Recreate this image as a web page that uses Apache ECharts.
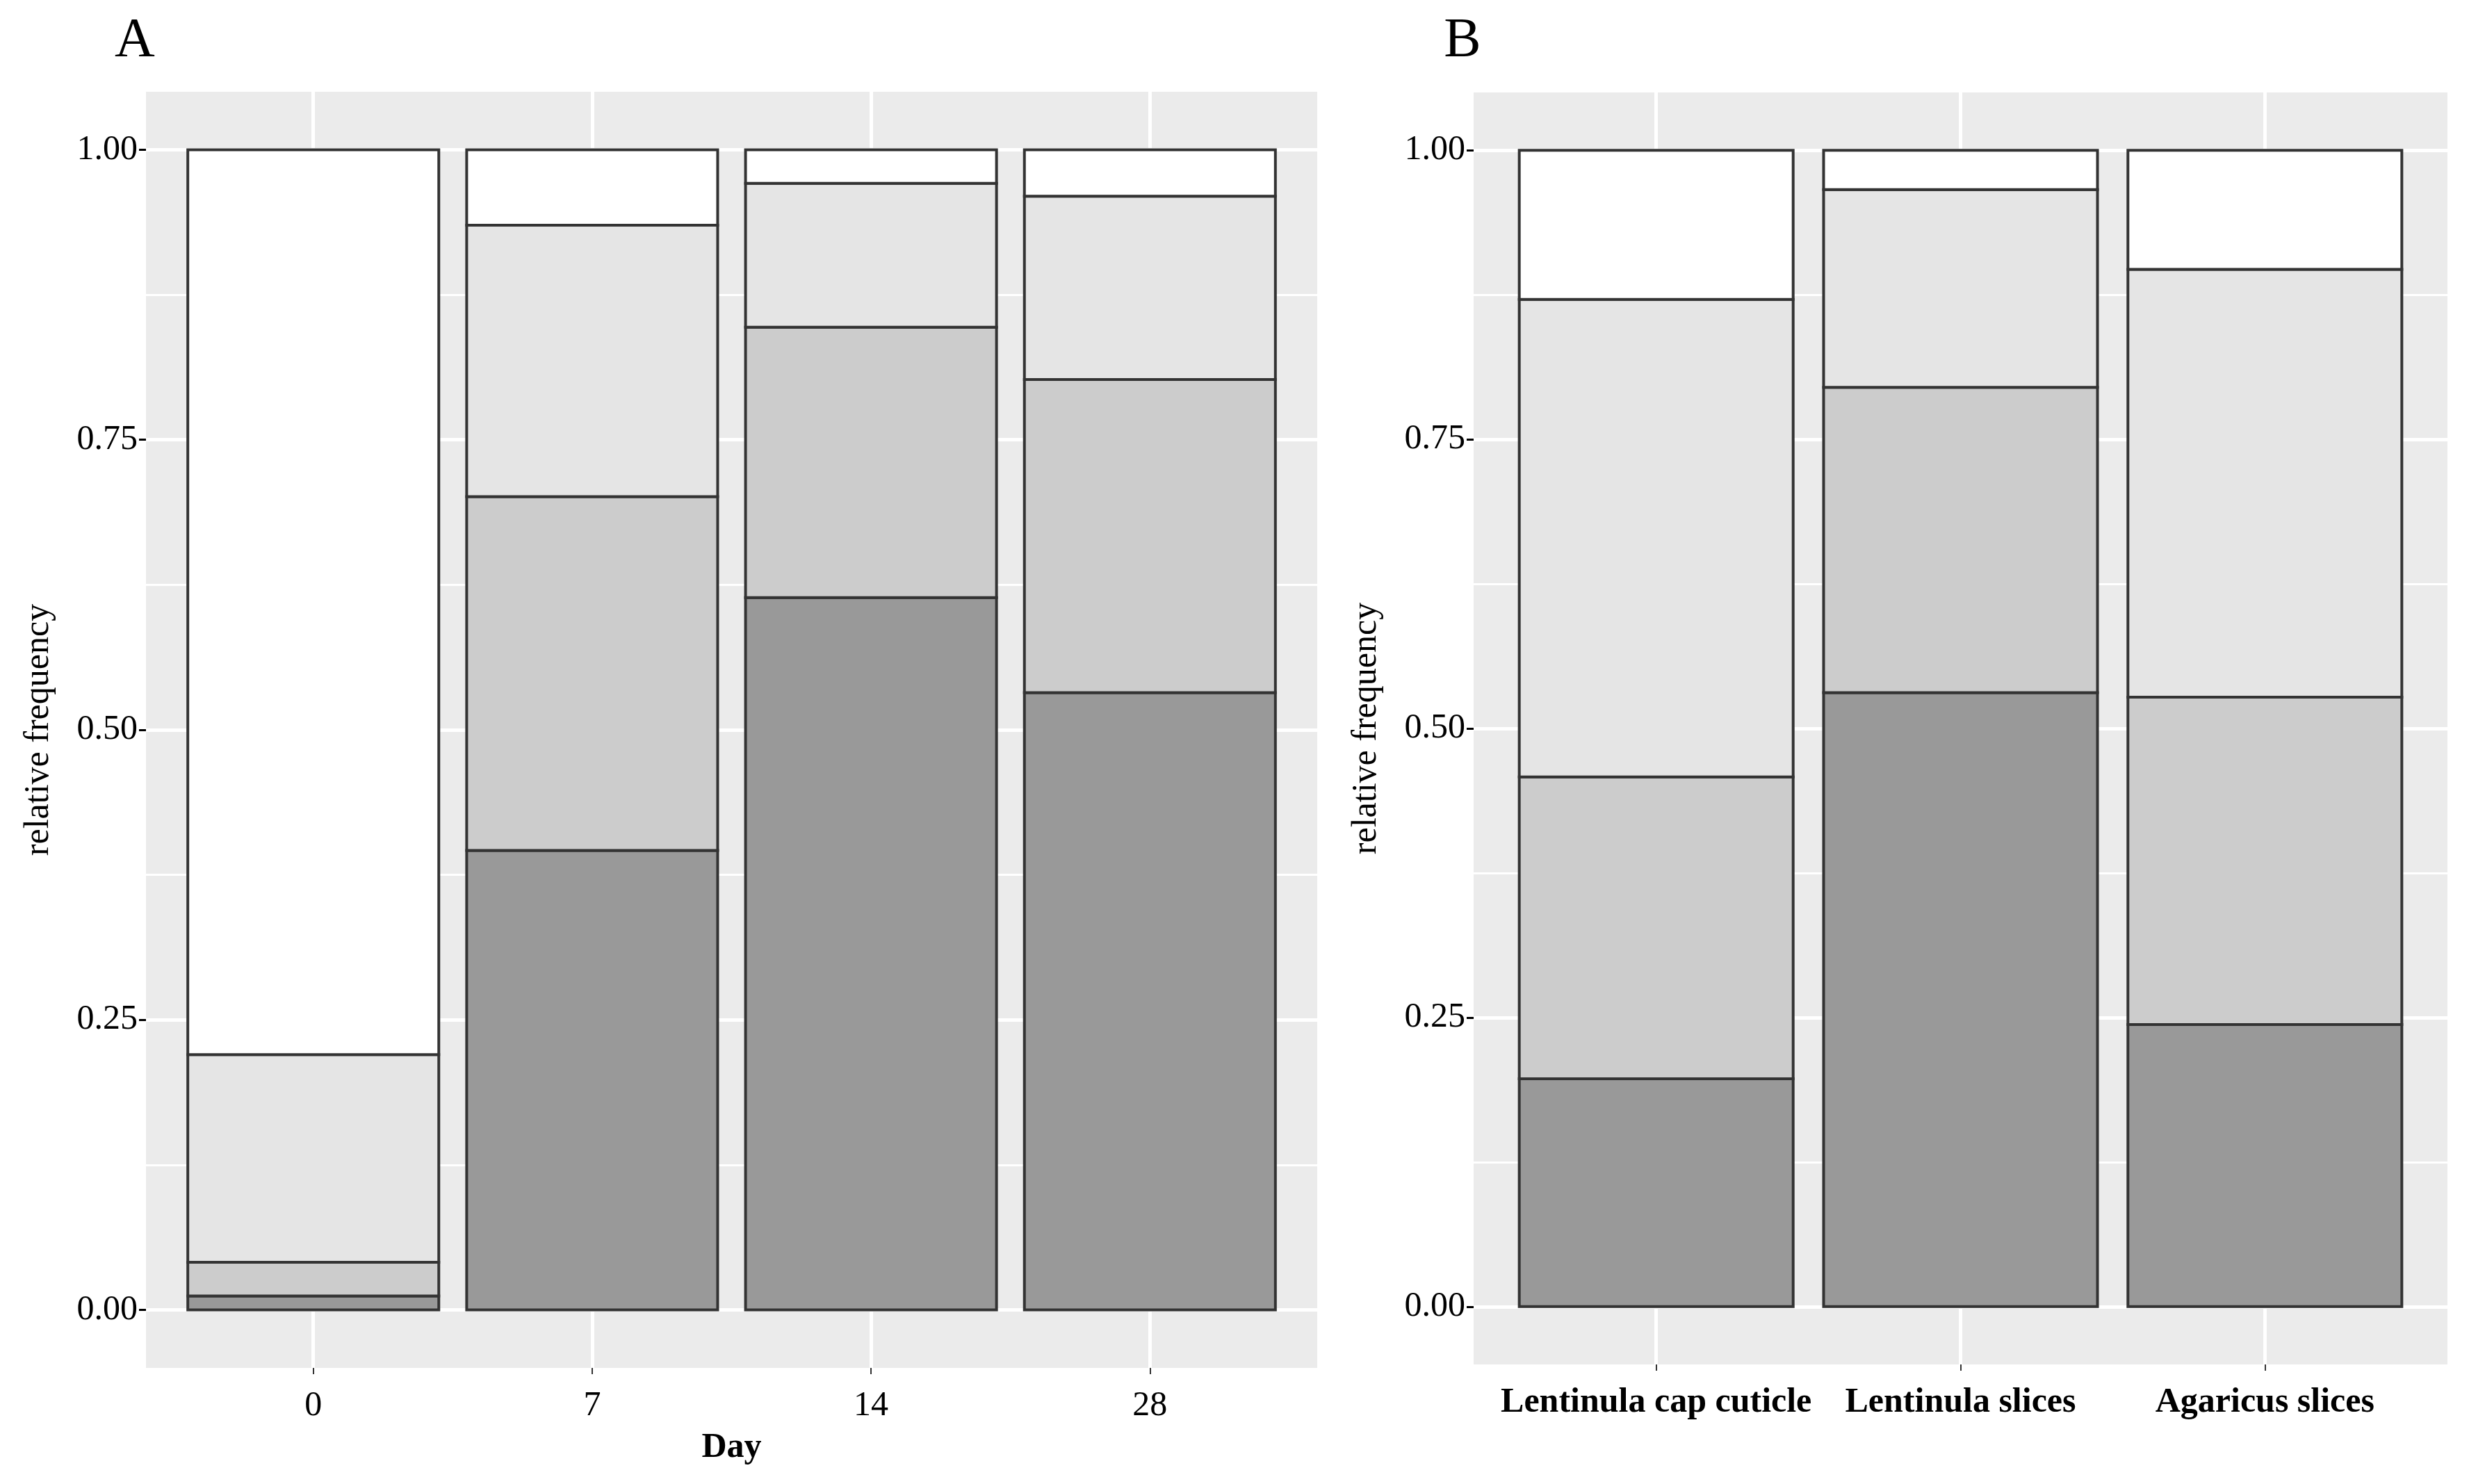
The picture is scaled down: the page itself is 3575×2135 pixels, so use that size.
<!DOCTYPE html>
<html><head><meta charset="utf-8">
<script src="https://cdn.jsdelivr.net/npm/echarts@6/dist/echarts.min.js"></script>
<style>html,body{margin:0;padding:0;background:#fff}#c{width:3575px;height:2135px}</style>
</head><body><div id="c"></div>
<script>
// Panel A: composition by day (bottom to top: dark, mid, light, white)
const daysA = ['0', '7', '14', '28'];
const darkA  = [0.012, 0.396, 0.614, 0.532];
const midA   = [0.029, 0.305, 0.233, 0.270];
const lightA = [0.179, 0.234, 0.124, 0.158];
const whiteA = [0.780, 0.065, 0.029, 0.040];
// Panel B: composition by sample
const samplesB = ['Lentinula cap cuticle', 'Lentinula slices', 'Agaricus slices'];
const darkB  = [0.197, 0.531, 0.244];
const midB   = [0.261, 0.264, 0.283];
const lightB = [0.413, 0.171, 0.370];
const whiteB = [0.129, 0.034, 0.103];
// Tick values
const yTicks = [0, 0.25, 0.5, 0.75, 1];
const yMinor = [0.125, 0.375, 0.625, 0.875];

const FONT = 'Liberation Serif';
const fills = ['#999999', '#cccccc', '#e5e5e5', '#ffffff'];

function idx(n) { return Array.from({length: n}, (_, i) => i); }

function xAxisFor(g, cats, bold, name) {
  return {
    type: 'value', gridIndex: g, min: -0.6, max: cats.length - 1 + 0.6,
    axisLine: {show: false, onZero: false},
    axisTick: {show: true, length: 9, lineStyle: {color: '#333', width: 2}, customValues: idx(cats.length)},
    axisLabel: {customValues: idx(cats.length), formatter: v => cats[Math.round(v)], fontFamily: FONT, fontSize: 50,
      fontWeight: bold ? 'bold' : 'normal', color: '#000', margin: 30},
    splitLine: {show: true, lineStyle: {color: '#ffffff', width: 5}},
    name: name || '', nameLocation: 'middle', nameGap: 90,
    nameTextStyle: {fontFamily: FONT, fontSize: 50, fontWeight: 'bold', color: '#000'}
  };
}
function yAxisFor(g) {
  return {
    type: 'value', gridIndex: g, min: -0.05, max: 1.05, position: 'left',
    axisLine: {show: false, onZero: false},
    axisTick: {show: true, length: 10, lineStyle: {color: '#000', width: 3}, customValues: yTicks},
    axisLabel: {customValues: yTicks, formatter: v => v.toFixed(2), fontFamily: FONT, fontSize: 50, color: '#000', margin: 12},
    splitLine: {show: true, lineStyle: {color: '#ffffff', width: 5}},
    name: 'relative frequency', nameLocation: 'middle', nameRotate: 90, nameGap: 129,
    nameTextStyle: {fontFamily: FONT, fontSize: 50, color: '#000'}
  };
}
function yMinorFor(g) {
  return {
    type: 'value', gridIndex: g, min: -0.05, max: 1.05, position: 'right',
    axisLine: {show: false, onZero: false},
    axisTick: {show: false, customValues: yMinor},
    axisLabel: {show: false, customValues: yMinor},
    splitLine: {show: true, lineStyle: {color: '#ffffff', width: 3}}
  };
}
// stacked segments: each item = [position, lower, upper]
function stackedSeries(g, yIdx, arrays) {
  const n = arrays[0].length;
  const base = new Array(n).fill(0);
  return arrays.map((arr, k) => {
    const data = arr.map((v, i) => { const lo = base[i]; base[i] += v; return [i, lo, base[i]]; });
    const fill = fills[k];
    return {
      type: 'custom', xAxisIndex: g, yAxisIndex: yIdx, z: 3,
      encode: {x: 0, y: [1, 2]},
      data: data,
      renderItem: function (params, api) {
        const i = api.value(0), lo = api.value(1), hi = api.value(2);
        const p0 = api.coord([i, lo]);
        const p1 = api.coord([i, hi]);
        const w = api.size([0.9, 0])[0];
        return {
          type: 'rect',
          shape: {x: p0[0] - w / 2, y: p1[1], width: w, height: p0[1] - p1[1]},
          style: {fill: fill, stroke: '#333333', lineWidth: 4}
        };
      }
    };
  });
}

const chart = echarts.init(document.getElementById('c'), null, {renderer: 'canvas'});
chart.setOption({
  backgroundColor: '#ffffff',
  animation: false,
  grid: [
    {left: 210, top: 132, width: 1685, height: 1836, show: true, backgroundColor: '#ebebeb', borderWidth: 0},
    {left: 2120, top: 133, width: 1401, height: 1830, show: true, backgroundColor: '#ebebeb', borderWidth: 0}
  ],
  xAxis: [xAxisFor(0, daysA, false, 'Day'), xAxisFor(1, samplesB, true, '')],
  yAxis: [yAxisFor(0), yAxisFor(1), yMinorFor(0), yMinorFor(1)],
  graphic: [
    {type: 'text', x: 194, y: 60, style: {text: 'A', font: '80px "Liberation Serif"', fill: '#000', align: 'center', verticalAlign: 'middle'}},
    {type: 'text', x: 2104, y: 60, style: {text: 'B', font: '80px "Liberation Serif"', fill: '#000', align: 'center', verticalAlign: 'middle'}}
  ],
  series: [].concat(
    stackedSeries(0, 0, [darkA, midA, lightA, whiteA]),
    stackedSeries(1, 1, [darkB, midB, lightB, whiteB])
  )
});
</script></body></html>
